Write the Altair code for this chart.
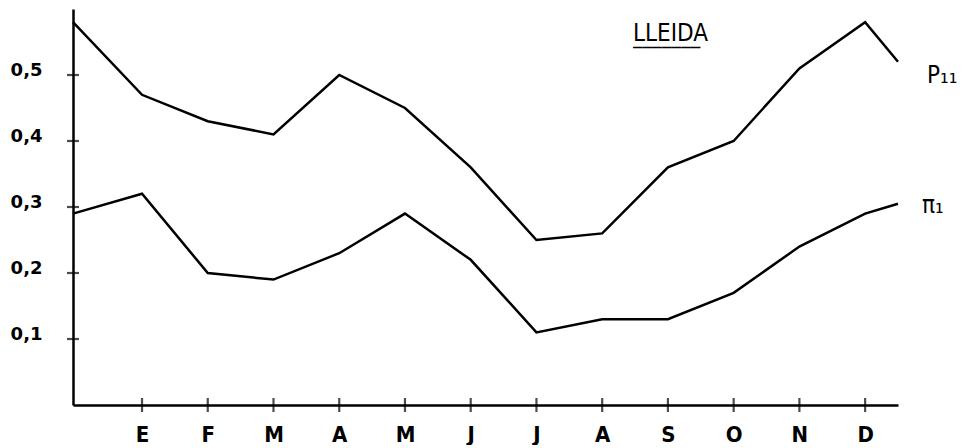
import json
import altair as alt
import pandas as pd

# ---- data ----
months = ["E", "F", "M", "A", "M", "J", "J", "A", "S", "O", "N", "D"]
month_pos = [1, 2, 3, 4, 5, 6, 7, 8, 9, 10, 11, 12]
x_points = [-0.05, 1, 2, 3, 4, 5, 6, 7, 8, 9, 10, 11, 12, 12.5]
p11 = [0.58, 0.47, 0.43, 0.41, 0.50, 0.45, 0.36, 0.25, 0.26, 0.36, 0.40, 0.51, 0.58, 0.52]
pi1 = [0.29, 0.32, 0.20, 0.19, 0.23, 0.29, 0.22, 0.11, 0.13, 0.13, 0.17, 0.24, 0.29, 0.305]
y_ticks = [0.1, 0.2, 0.3, 0.4, 0.5]
series_names = ["P₁₁", "π₁"]

X_DOMAIN = [-0.05, 12.5]
Y_DOMAIN = [0, 0.6]

COND = "DejaVu Sans Condensed, DejaVu Sans"

rows = []
for name, vals in zip(series_names, [p11, pi1]):
    for i, (x, v) in enumerate(zip(x_points, vals)):
        rows.append({"series": name, "x": x, "v": v, "i": i})
df = pd.DataFrame(rows)
last = df[df["i"] == len(x_points) - 1]

xs = alt.Scale(domain=X_DOMAIN, nice=False, zero=False)
ys = alt.Scale(domain=Y_DOMAIN, nice=False)

label_expr_x = json.dumps(months) + "[datum.value - 1]"

base = alt.Chart(df)

lines = base.mark_line(color="black", strokeWidth=2.5, strokeJoin="miter").encode(
    x=alt.X("x:Q", scale=xs, axis=alt.Axis(
        values=month_pos, labelExpr=label_expr_x, ticks=False, grid=False,
        domainColor="black", domainWidth=2.5, labelPadding=19,
        labelFont=COND, labelFontSize=22, labelFontWeight="bold", labelColor="black",
        labelBaseline="top", title=None)),
    y=alt.Y("v:Q", scale=ys, axis=alt.Axis(
        values=y_ticks, labelExpr="replace(format(datum.value, '.1f'), '.', ',')",
        ticks=False, grid=False, domainColor="black", domainWidth=2.5,
        labelPadding=31, labelFont="DejaVu Sans", labelFontWeight="bold",
        labelFontSize=18, labelColor="black", labelBaseline="alphabetic", title=None)),
    detail="series:N",
    order="i:Q",
)

xt = alt.Chart(pd.DataFrame({"m": month_pos})).mark_tick(
    orient="vertical", color="black", size=14, thickness=2.2
).encode(x=alt.X("m:Q", scale=xs), y=alt.YDatum(0))

yt = alt.Chart(pd.DataFrame({"t": y_ticks})).mark_tick(
    orient="horizontal", color="black", size=12, thickness=2.2
).encode(y=alt.Y("t:Q", scale=ys), x=alt.XDatum(X_DOMAIN[0]))

lab_p = alt.Chart(last[last["series"] == series_names[0]]).mark_text(
    align="left", baseline="middle", dx=29, dy=14, font=COND,
    fontSize=24, color="black"
).encode(x=alt.X("x:Q", scale=xs), y=alt.Y("v:Q", scale=ys), text="series:N")

lab_pi = alt.Chart(last[last["series"] == series_names[1]]).mark_text(
    align="left", baseline="middle", dx=24, dy=2, font=COND,
    fontSize=24, color="black"
).encode(x=alt.X("x:Q", scale=xs), y=alt.Y("v:Q", scale=ys), text="series:N")

chart = alt.layer(lines, xt, yt, lab_p, lab_pi).properties(
    width=825, height=396,
    padding={"left": 65, "top": 1, "right": 60, "bottom": 40},
    autosize=alt.AutoSizeParams(type="none"),
    background="white",
    title=alt.TitleParams(
        "LLEIDA", subtitle="_______", anchor="start", frame="group", dx=560, dy=43,
        font=COND, fontSize=24, fontWeight="normal", color="black",
        subtitleFont="DejaVu Sans Mono", subtitleFontSize=16, subtitleFontWeight="bold",
        subtitleColor="black", subtitlePadding=-14,
    ),
).configure_view(stroke=None)

chart.save("out.html", embed_options={"renderer": "svg", "actions": False})
